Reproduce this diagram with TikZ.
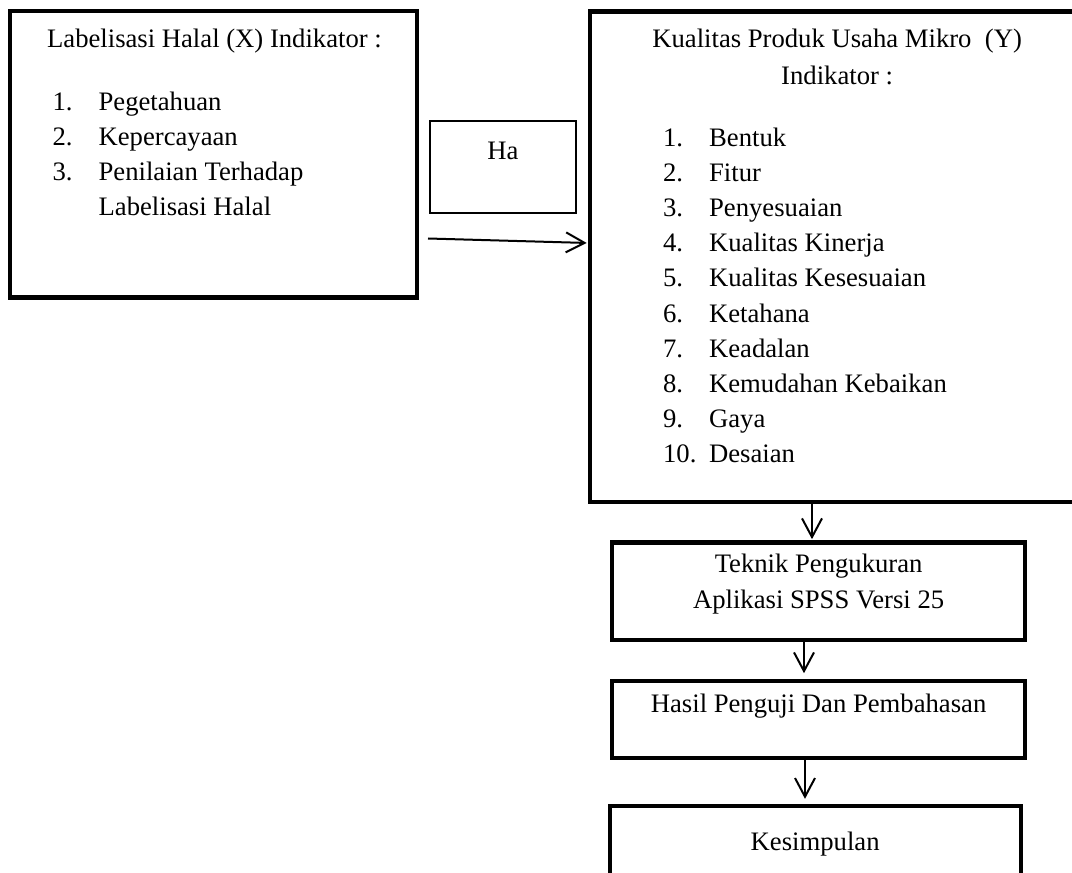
\documentclass[tikz,border=0pt]{standalone}
\usepackage{fontspec}
\setmainfont{Liberation Serif}
\usetikzlibrary{arrows.meta,positioning}

\newlength{\pxu}
\setlength{\pxu}{0.75pt}
\newcommand{\boxfont}{\fontsize{20pt}{26.4pt}\selectfont}
\newcommand{\nomor}[2]{\makebox[46\pxu][l]{#1}#2}

\begin{document}
\begin{tikzpicture}[x=0.75pt,y=-0.75pt,>={Straight Barb[length=14pt,width=15pt]},
        kotak/.style={draw,line width=3.2pt,inner sep=0pt,anchor=north west},
        tipis/.style={draw,line width=1pt,inner sep=0pt,anchor=north west},
        panah/.style={->,line width=1.5pt,shorten >=1pt}]

  \useasboundingbox (0,0) rectangle (1072,873);
  \clip (0,0) rectangle (1072,873);

  \node[kotak] (lab) at (7.5,9) {\parbox[c][286.5\pxu][t]{407.5\pxu}{\boxfont
      \rule{0pt}{36\pxu}\hspace*{37.5\pxu}Labelisasi Halal (X) Indikator :\\[28\pxu]
      \hspace*{43\pxu}\nomor{1.}{Pegetahuan}\\
      \hspace*{43\pxu}\nomor{2.}{Kepercayaan}\\
      \hspace*{43\pxu}\nomor{3.}{Penilaian Terhadap}\\
      \hspace*{43\pxu}\nomor{}{Labelisasi Halal}}};
  \node[tipis] (ha) at (429.3,120.3) {\parbox[c][92\pxu][t]{146\pxu}{\boxfont\centering
      \rule{0pt}{39\pxu}Ha}};
  \node[kotak] (kua) at (588,9.5) {\parbox[c][490.5\pxu][t]{494\pxu}{\boxfont
      {\centering\rule{0pt}{35.5\pxu}Kualitas Produk Usaha Mikro\ \ (Y)\\[1.4pt]
      Indikator :\par}
      \vspace{26.8\pxu}
      \hspace*{73\pxu}\nomor{1.}{Bentuk}\\
      \hspace*{73\pxu}\nomor{2.}{Fitur}\\
      \hspace*{73\pxu}\nomor{3.}{Penyesuaian}\\
      \hspace*{73\pxu}\nomor{4.}{Kualitas Kinerja}\\
      \hspace*{73\pxu}\nomor{5.}{Kualitas Kesesuaian}\\
      \hspace*{73\pxu}\nomor{6.}{Ketahana}\\
      \hspace*{73\pxu}\nomor{7.}{Keadalan}\\
      \hspace*{73\pxu}\nomor{8.}{Kemudahan Kebaikan}\\
      \hspace*{73\pxu}\nomor{9.}{Gaya}\\
      \hspace*{73\pxu}\nomor{10.}{Desaian}}};
  \node[kotak] (tek) at (610,540.5) {\parbox[c][97.5\pxu][t]{413\pxu}{\boxfont\centering
      \rule{0pt}{29.5\pxu}Teknik Pengukuran\\[0.6pt]
      Aplikasi SPSS Versi 25}};
  \node[kotak,below=27.2pt of tek] (has) {\parbox[c][77.5\pxu][t]{413\pxu}{\boxfont\centering
      \rule{0pt}{31.5\pxu}Hasil Penguji Dan Pembahasan}};
  \node[kotak,below=32.9pt of has,xshift=-2.6pt] (kes) {\parbox[c][100\pxu][t]{411\pxu}{\boxfont\centering
      \rule{0pt}{44\pxu}Kesimpulan}};

  \coordinate (mulai) at (428,238.5);

  \draw[panah] (mulai) -- (kua.west |- 0,243);
  \draw[panah] (812,0 |- kua.south) -- (812,0 |- tek.north);
  \draw[panah,shorten >=4pt] (804,0 |- tek.south) -- (804,0 |- has.north);
  \draw[panah,shorten >=4pt] (805,0 |- has.south) -- (805,0 |- kes.north);

\end{tikzpicture}
\end{document}
